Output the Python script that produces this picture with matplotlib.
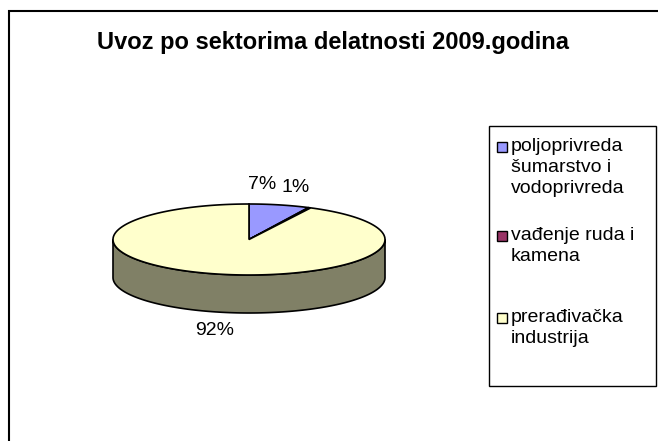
import numpy as np
import matplotlib.pyplot as plt
from matplotlib.patches import Polygon, Rectangle

plt.rcParams['font.family'] = ['Liberation Sans', 'DejaVu Sans']

# podaci
categories = ['poljoprivreda\nšumarstvo i\nvodoprivreda', 'vađenje ruda i\nkamena', 'prerađivačka\nindustrija']
values = [7.2, 0.3, 92.5]
pct_labels = ['7%', '1%', '92%']
colors = ['#9999FF', '#993366', '#FFFFCC']
side_colors = ['#4D4D80', '#4D1A33', '#808066']
title = 'Uvoz po sektorima delatnosti 2009.godina'

fig = plt.figure(figsize=(6.58, 4.41), dpi=100)
ax = fig.add_axes([0, 0, 1, 1])
ax.set_xlim(0, 658)
ax.set_ylim(441, 0)
ax.axis('off')

# okvir grafikona
ax.add_patch(Rectangle((9, 11), 700, 500, fc='white', ec='black', lw=1.5))
ax.text(333, 43, title, ha='center', va='center', fontsize=17, fontweight='bold')

# 3D pita (elipsa)
cx, cy, rx, ry, depth = 249, 239.5, 136, 35.5, 38
fracs = np.array(values) / sum(values)
ends = 90 - 360 * np.cumsum(fracs)
starts = ends + 360 * fracs

# bocne strane (samo prednja polovina)
for s, e, col in zip(starts, ends, side_colors):
    for k in (-360, 0, 360):
        lo, hi = max(e, -180 + k), min(s, k)
        if hi > lo:
            t = np.radians(np.linspace(lo, hi, 120))
            x = cx + rx * np.cos(t)
            y = cy - ry * np.sin(t)
            poly = np.column_stack([np.r_[x, x[::-1]], np.r_[y, y[::-1] + depth]])
            ax.add_patch(Polygon(poly, closed=True, fc=col, ec='black', lw=1.2))

# gornja povrsina
for s, e, col in zip(starts, ends, colors):
    t = np.radians(np.linspace(s, e, 200))
    x = np.r_[cx, cx + rx * np.cos(t)]
    y = np.r_[cy, cy - ry * np.sin(t)]
    ax.add_patch(Polygon(np.column_stack([x, y]), closed=True, fc=col, ec='black', lw=1.2))

# procenti
nudges = [(-17, -20), (-14, -20), (-3, 18)]
for s, e, lab, (ddx, ddy) in zip(starts, ends, pct_labels, nudges):
    m = np.radians((s + e) / 2)
    lx = cx + rx * np.cos(m)
    ly = cy - ry * np.sin(m)
    if np.sin(m) < 0:
        ly += depth
    ax.text(lx + ddx, ly + ddy, lab, ha='center', va='center', fontsize=14)

# legenda
ax.add_patch(Rectangle((489, 126), 167, 260, fc='white', ec='black', lw=1))
entry_tops = [142, 231, 313]
for top, lab, col in zip(entry_tops, categories, colors):
    ax.add_patch(Rectangle((497, top), 10, 10, fc=col, ec='black', lw=1))
    ax.text(511, top - 4, lab, ha='left', va='top', fontsize=14, linespacing=1.3)

plt.savefig('out.png', dpi=100)
